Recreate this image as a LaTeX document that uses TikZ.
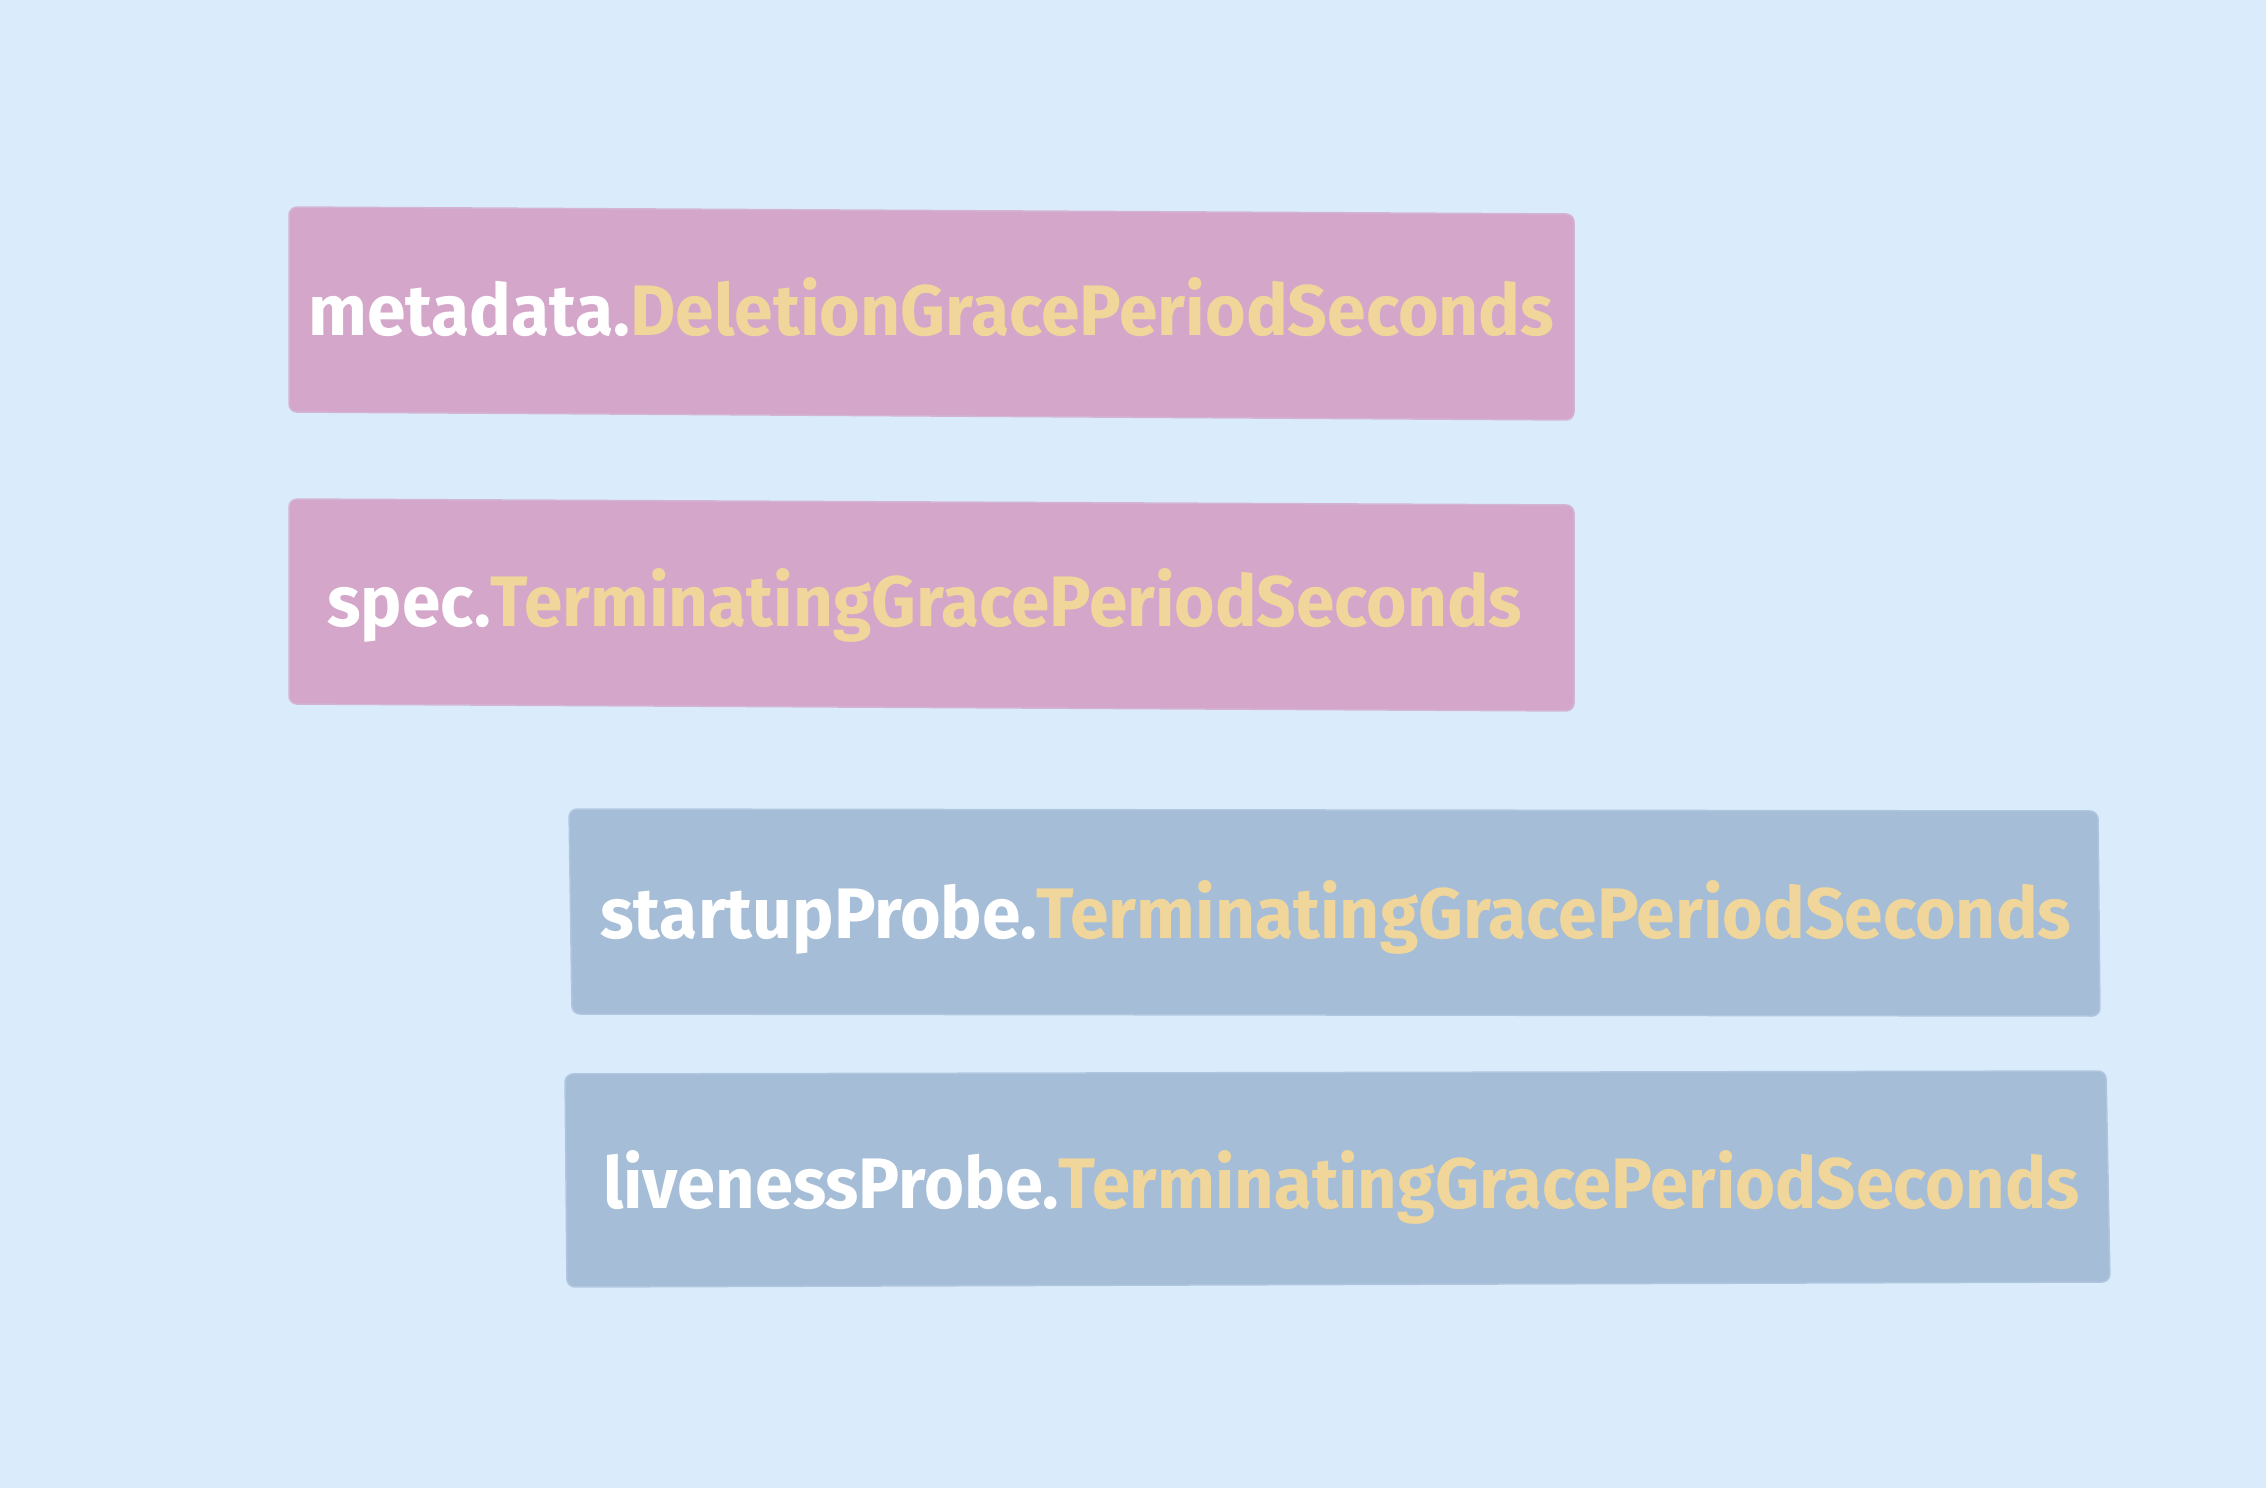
\documentclass[tikz,border=0pt]{standalone}
\usepackage{fontspec}
\setmainfont{Fira Sans}
\usepackage{graphicx}
\definecolor{bgc}{RGB}{218,236,252}
\definecolor{pinkc}{RGB}{211,166,202}
\definecolor{bluec}{RGB}{165,189,214}
\definecolor{yelc}{RGB}{240,214,154}
\tikzset{
  box/.style={rounded corners=8pt},
  pinkbox/.style={box, fill=pinkc, draw=pinkc!80!bgc, line width=1.5pt},
  bluebox/.style={box, fill=bluec, draw=bluec!80!bgc, line width=1.5pt},
  label/.style={anchor=base west, inner sep=0pt, font=\fontsize{60}{72}\selectfont\bfseries}
}
\newcommand{\fitlabel}[4]{\resizebox{#1pt}{#2pt}{\textcolor{white}{#3}\textcolor{yelc}{#4}}}
\begin{document}
\begin{tikzpicture}[x=1pt,y=-1pt]
  \fill[bgc] (0,0) rectangle (2266,1488);
  \useasboundingbox (0,0) rectangle (2266,1488);
  % boxes
  \filldraw[pinkbox] (289,207) -- (1574,214) -- (1574,420) -- (289,412) -- cycle;
  \filldraw[pinkbox] (289,499) -- (1574,505) -- (1574,711) -- (289,704) -- cycle;
  \filldraw[bluebox] (569,809) -- (2098,811) -- (2100,1016) -- (572,1014) -- cycle;
  \filldraw[bluebox] (565,1074) -- (2106,1071) -- (2110,1282) -- (567,1287) -- cycle;
  % labels
  \node[label] (meta) at (308,335) {\fitlabel{1246}{58}{metadata.}{DeletionGracePeriodSeconds}};
  \node[label] (spec) at (327,626) {\fitlabel{1195}{58}{spec.}{TerminatingGracePeriodSeconds}};
  \node[label] (startup) at (600,938) {\fitlabel{1471}{58}{startupProbe.}{TerminatingGracePeriodSeconds}};
  \node[label] (liveness) at (603,1208) {\fitlabel{1476}{58}{livenessProbe.}{TerminatingGracePeriodSeconds}};
\end{tikzpicture}
\end{document}
